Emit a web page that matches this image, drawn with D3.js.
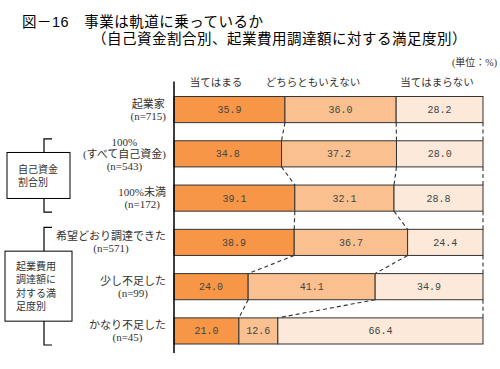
<!DOCTYPE html>
<html><head><meta charset="utf-8">
<script src="https://cdn.jsdelivr.net/npm/d3@7"></script>
<style>
body{margin:0;background:#fff;}
svg{display:block;}
</style></head>
<body>
<script>
const titleLines = ["図－16　事業は軌道に乗っているか", "（自己資金割合別、起業費用調達額に対する満足度別）"];
const unitLabel = "(単位：%)";
const seriesNames = ["当てはまる", "どちらともいえない", "当てはまらない"];
const categories = ["起業家", "100%全額", "100%未満", "希望どおり", "少し不足", "かなり不足"];
const categoryLines = [
  ["起業家", "(n=715)"],
  ["100%", "(すべて自己資金)", "(n=543)"],
  ["100%未満", "(n=172)"],
  ["希望どおり調達できた", "(n=571)"],
  ["少し不足した", "(n=99)"],
  ["かなり不足した", "(n=45)"]
];
const applies    = [35.9, 34.8, 39.1, 38.9, 24.0, 21.0];
const neutral    = [36.0, 37.2, 32.1, 36.7, 41.1, 12.6];
const notApplies = [28.2, 28.0, 28.8, 24.4, 34.9, 66.4];
const groupLabels = [["自己資金", "割合別"], ["起業費用", "調達額に", "対する満", "足度別"]];
const groupRows = [[1, 2], [3, 5]];

const colors = ["#F79646", "#FAC090", "#FDE9D9"];
const W = 500, H = 369;
const svg = d3.select("body").append("svg").attr("width", W).attr("height", H);
const ttl = "'Liberation Sans', 'Noto Sans CJK JP', sans-serif";
const lbl = "'Liberation Serif', 'Noto Sans CJK JP', serif";

// title
svg.append("text").attr("x", 22).attr("y", 27).attr("font-family", ttl).attr("font-size", 14.5)
  .attr("letter-spacing", 0.5).attr("fill", "#000").text(titleLines[0]);
svg.append("text").attr("x", 92).attr("y", 43.5).attr("font-family", ttl).attr("font-size", 14.5)
  .attr("letter-spacing", 0.5).attr("fill", "#000").text(titleLines[1]);
svg.append("text").attr("x", 497).attr("y", 66).attr("text-anchor", "end").attr("font-family", lbl)
  .attr("font-size", 10).attr("fill", "#333").text(unitLabel);

const x = d3.scaleLinear().domain([0, 100]).range([174, 483]);
const y = d3.scaleBand().domain(categories).range([96.5, 344]).paddingInner(0.41).paddingOuter(0);
const bw = y.bandwidth();

const rows = categories.map((c, i) => {
  const vals = [applies[i], neutral[i], notApplies[i]];
  let cum = 0;
  const segs = vals.map((v, k) => { const s = {k, v, x0: cum, x1: cum + v}; cum += v; return s; });
  return {c, i, segs};
});

// headers
const headerX = [216, 313, 437];
seriesNames.forEach((s, k) => {
  svg.append("text").attr("x", headerX[k]).attr("y", 86).attr("text-anchor", "middle")
    .attr("font-family", lbl).attr("font-size", 10.5).attr("fill", "#333").text(s);
});

// dashed connectors
const conn = svg.append("g").attr("stroke", "#333").attr("stroke-width", 1.1).attr("stroke-dasharray", "4,3").attr("fill", "none");
for (let i = 0; i < rows.length - 1; i++) {
  const a = rows[i], b = rows[i + 1];
  const bounds = [[a.segs[0].x1, b.segs[0].x1], [a.segs[1].x1, b.segs[1].x1], [100, 100]];
  bounds.forEach(([p, q]) => {
    conn.append("line").attr("x1", x(Math.min(p, 100))).attr("y1", y(a.c) + bw)
      .attr("x2", x(Math.min(q, 100))).attr("y2", y(b.c));
  });
}

// bars
const g = svg.append("g");
rows.forEach(r => {
  r.segs.forEach(s => {
    const x1 = Math.min(s.x1, 100);
    g.append("rect").attr("x", x(s.x0)).attr("y", y(r.c)).attr("width", x(x1) - x(s.x0)).attr("height", bw)
      .attr("fill", colors[s.k]).attr("stroke", "#333").attr("stroke-width", 1);
    g.append("text").attr("x", (x(s.x0) + x(x1)) / 2).attr("y", y(r.c) + bw / 2 + 3.5)
      .attr("text-anchor", "middle").attr("font-family", "'Liberation Mono', 'DejaVu Sans Mono', monospace")
      .attr("font-size", 10).attr("fill", "#444").text(d3.format(".1f")(s.v));
  });
});

// axis line
svg.append("line").attr("x1", 174).attr("x2", 174).attr("y1", y.range()[0] - 15).attr("y2", y.range()[1] + 9)
  .attr("stroke", "#000").attr("stroke-width", 1.5);

// category labels
const lh = 12;
const fs = 11;
const measure = svg.append("text").attr("font-family", lbl).attr("font-size", fs).attr("visibility", "hidden");
rows.forEach(r => {
  const lines = categoryLines[r.i];
  let maxW = 0;
  lines.forEach(l => { measure.text(l); maxW = Math.max(maxW, measure.node().getComputedTextLength()); });
  const cx = 166 - maxW / 2;
  const cy = y(r.c) + bw / 2;
  lines.forEach((l, j) => {
    svg.append("text").attr("x", cx).attr("y", cy + (j - (lines.length - 1) / 2) * lh + 4)
      .attr("text-anchor", "middle").attr("font-family", lbl).attr("font-size", fs).attr("fill", "#333").text(l);
  });
});
measure.remove();

// group brackets and boxes
const boxes = [{x: 7, w: 63, h: 46}, {x: 5, w: 67, h: 70}];
groupRows.forEach(([a, b], gi) => {
  const top = y(categories[a]) - 2, bot = y(categories[b]) + bw + 1;
  const bx = 44;
  svg.append("path").attr("d", `M${bx + 8},${top}H${bx}V${bot}H${bx + 8}`).attr("fill", "none")
    .attr("stroke", "#000").attr("stroke-width", 1.2);
  const mid = (top + bot) / 2;
  const bxo = boxes[gi];
  svg.append("rect").attr("x", bxo.x).attr("y", mid - bxo.h / 2).attr("width", bxo.w).attr("height", bxo.h)
    .attr("fill", "#fff").attr("stroke", "#000").attr("stroke-width", 1);
  const lines = groupLabels[gi];
  const glh = 13.5;
  lines.forEach((l, j) => {
    svg.append("text").attr("x", bxo.x + 11).attr("y", mid + (j - (lines.length - 1) / 2) * glh + 3.8)
      .attr("font-family", lbl).attr("font-size", 10).attr("fill", "#333").text(l);
  });
});
</script>
</body></html>
